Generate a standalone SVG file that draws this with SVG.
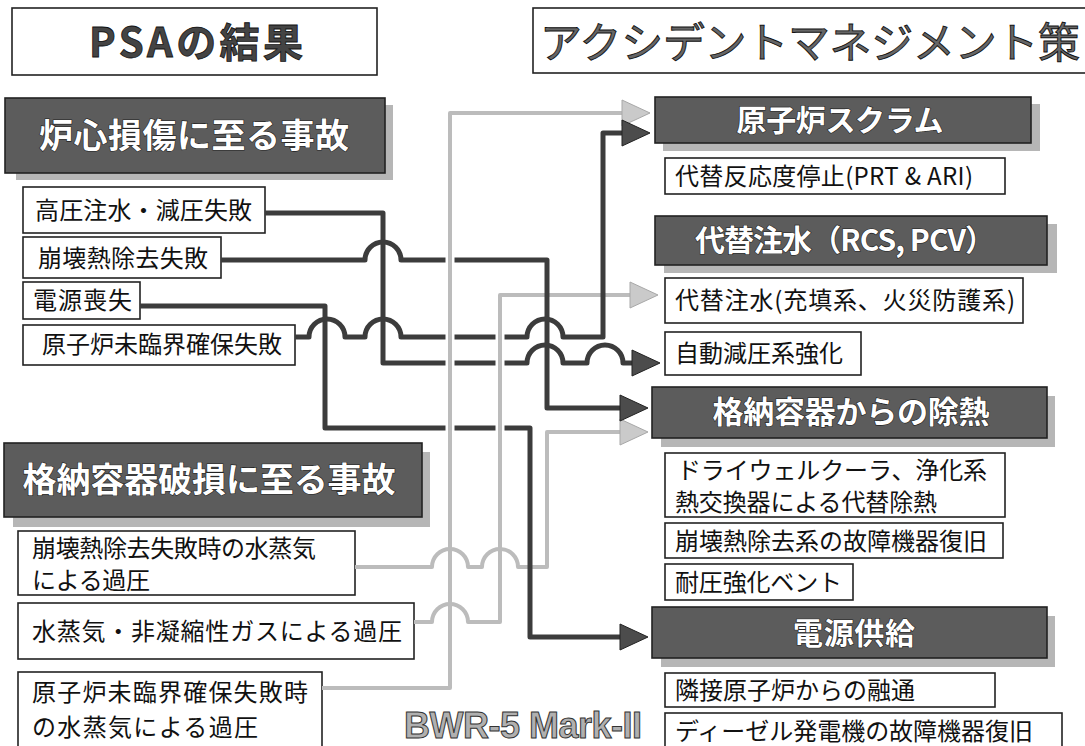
<svg xmlns="http://www.w3.org/2000/svg" width="1085" height="746" viewBox="0 0 1085 746">
<style>
.box{fill:#fff;stroke:#222;stroke-width:1.6}
.hdr{fill:#5c5c5c;stroke:#222;stroke-width:1.6}
.shd{fill:#b6b6b6}
.t{font-family:"Noto Sans CJK JP","Noto Sans",sans-serif;font-size:24px;fill:#111}
.ht{font-family:"Noto Sans CJK JP","Noto Sans",sans-serif;font-weight:bold;fill:#fff;stroke:#222;stroke-width:1.2;paint-order:stroke;text-anchor:middle}
.dk{fill:none;stroke:#3c3c3c;stroke-width:5;stroke-linejoin:round}
.lt{fill:none;stroke:#bcbcbc;stroke-width:4;stroke-linejoin:round}
.case{fill:none;stroke:#fff;stroke-width:9}
</style>
<defs>
<marker id="ad" markerUnits="userSpaceOnUse" markerWidth="30" markerHeight="28" refX="0" refY="13" orient="auto" overflow="visible"><path d="M0,0 L28,13 L0,26 z" fill="#4c4c4c" stroke="#222" stroke-width="1"/></marker>
<marker id="al" markerUnits="userSpaceOnUse" markerWidth="30" markerHeight="28" refX="0" refY="13" orient="auto" overflow="visible"><path d="M0,0 L28,13 L0,26 z" fill="#cacaca" stroke="#a8a8a8" stroke-width="1"/></marker>
</defs>

<g id="title-psa"><rect class="box" x="12" y="8" width="365" height="67"/><text x="196" y="57" text-anchor="middle" font-family="'Noto Sans CJK JP','Noto Sans',sans-serif" font-weight="bold" font-size="40" fill="#444" stroke="#111" stroke-width="0.8" textLength="214">PSAの結果</text></g>
<g id="title-am"><rect class="box" x="533" y="8" width="560" height="65"/><text x="540" y="58" font-family="'Noto Sans CJK JP','Noto Sans',sans-serif" font-size="42" fill="#666" stroke="#111" stroke-width="0.9" textLength="540">アクシデントマネジメント策</text></g>

<g id="hdr-core"><rect class="shd" x="16" y="105" width="377" height="75"/><rect class="hdr" x="5" y="98" width="380" height="75"/><text class="ht" x="194" y="148" font-size="34" textLength="310">炉心損傷に至る事故</text></g>
<g id="hdr-pcv"><rect class="shd" x="13" y="452" width="417" height="75"/><rect class="hdr" x="4" y="443" width="418" height="74"/><text class="ht" x="209" y="492" font-size="34" textLength="373">格納容器破損に至る事故</text></g>

<g id="c1"><rect class="box" x="23" y="187" width="242" height="46"/><text class="t" x="35" y="219" textLength="217">高圧注水・減圧失敗</text></g>
<g id="c2"><rect class="box" x="23" y="237" width="198" height="41"/><text class="t" x="38" y="267" textLength="170">崩壊熱除去失敗</text></g>
<g id="c3"><rect class="box" x="23" y="282" width="117" height="37"/><text class="t" x="33" y="309" textLength="99">電源喪失</text></g>
<g id="c4"><rect class="box" x="23" y="325" width="272" height="40"/><text class="t" x="42" y="353" textLength="240">原子炉未臨界確保失敗</text></g>

<g id="p1"><rect class="box" x="18" y="531" width="337" height="64"/><text class="t" font-size="22"><tspan x="32" y="557" textLength="284">崩壊熱除去失敗時の水蒸気</tspan><tspan x="32" y="589" textLength="118">による過圧</tspan></text></g>
<g id="p2"><rect class="box" x="18" y="603" width="396" height="56"/><text class="t" x="32" y="640" textLength="370">水蒸気・非凝縮性ガスによる過圧</text></g>
<g id="p3"><rect class="box" x="18" y="672" width="304" height="76"/><text class="t"><tspan x="32" y="701" textLength="276">原子炉未臨界確保失敗時</tspan><tspan x="32" y="736" textLength="226">の水蒸気による過圧</tspan></text></g>

<g id="m-scram"><rect class="shd" x="663" y="104" width="377" height="47"/><rect class="hdr" x="655" y="97" width="376" height="46"/><text class="ht" x="840" y="131" font-size="30" textLength="207">原子炉スクラム</text></g>
<g id="m-scram1"><rect class="box" x="665" y="158" width="340" height="36"/><text class="t" x="675" y="185" textLength="298">代替反応度停止(PRT &amp; ARI)</text></g>
<g id="m-inj"><rect class="shd" x="664" y="224" width="393" height="49"/><rect class="hdr" x="655" y="216" width="392" height="49"/><text class="ht" x="845" y="251" font-size="30" textLength="300">代替注水（RCS, PCV）</text></g>
<g id="m-inj1"><rect class="box" x="665" y="278" width="358" height="45"/><text class="t" x="675" y="309" textLength="340">代替注水(充填系、火災防護系)</text></g>
<g id="m-inj2"><rect class="box" x="665" y="332" width="196" height="43"/><text class="t" x="675" y="362" textLength="168">自動減圧系強化</text></g>
<g id="m-heat"><rect class="shd" x="661" y="396" width="394" height="51"/><rect class="hdr" x="652" y="387" width="395" height="51"/><text class="ht" x="851" y="423" font-size="31" textLength="277">格納容器からの除熱</text></g>
<g id="m-heat1"><rect class="box" x="665" y="453" width="340" height="64"/><text class="t" font-size="22"><tspan x="677" y="479" textLength="310">ドライウェルクーラ、浄化系</tspan><tspan x="675" y="511" textLength="262">熱交換器による代替除熱</tspan></text></g>
<g id="m-heat2"><rect class="box" x="665" y="523" width="338" height="35"/><text class="t" x="675" y="550" textLength="312">崩壊熱除去系の故障機器復旧</text></g>
<g id="m-heat3"><rect class="box" x="665" y="564" width="188" height="36"/><text class="t" x="675" y="591" textLength="167">耐圧強化ベント</text></g>
<g id="m-pow"><rect class="shd" x="661" y="616" width="394" height="51"/><rect class="hdr" x="652" y="607" width="395" height="51"/><text class="ht" x="854" y="644" font-size="30" textLength="122">電源供給</text></g>
<g id="m-pow1"><rect class="box" x="665" y="673" width="330" height="34"/><text class="t" x="675" y="699" textLength="240">隣接原子炉からの融通</text></g>
<g id="m-pow2"><rect class="box" x="665" y="713" width="397" height="40"/><text class="t" x="675" y="740" textLength="358">ディーゼル発電機の故障機器復旧</text></g>

<g id="connectors">
<path class="lt" d="M322,688 H450 V113 H622" marker-end="url(#al)"/>
<path class="lt" d="M414,622 H432 A18,18 0 0 1 468,622 H500 V295 H630" marker-end="url(#al)"/>
<path class="lt" d="M355,567 H432 A18,18 0 0 1 468,567 H482 A18,18 0 0 1 518,567 H547 V432 H620" marker-end="url(#al)"/>
<path class="dk" d="M265,213 H383 V363 H527 A18,18 0 0 1 563,363 H587 A18,18 0 0 1 623,363 H632" marker-end="url(#ad)"/>
<path class="dk" d="M221,260 H365 A18,18 0 0 1 401,260 H547 V408 H620" marker-end="url(#ad)"/>
<path class="dk" d="M140,306 H325 V428 H530 V637 H620" marker-end="url(#ad)"/>
<path class="dk" d="M295,337 H309 A18,18 0 0 1 345,337 H365 A18,18 0 0 1 401,337 H527 A18,18 0 0 1 563,337 H603 V133 H622" marker-end="url(#ad)"/>
<path class="case" d="M450,245 V440 M500,320 V440"/>
<path class="lt" d="M450,240 V445 M500,310 V445"/>
</g>

<text x="404" y="738" font-family="'Liberation Sans',sans-serif" font-weight="bold" font-size="36" fill="#b0b0b0" stroke="#333" stroke-width="1" textLength="238">BWR-5 Mark-II</text>
</svg>
